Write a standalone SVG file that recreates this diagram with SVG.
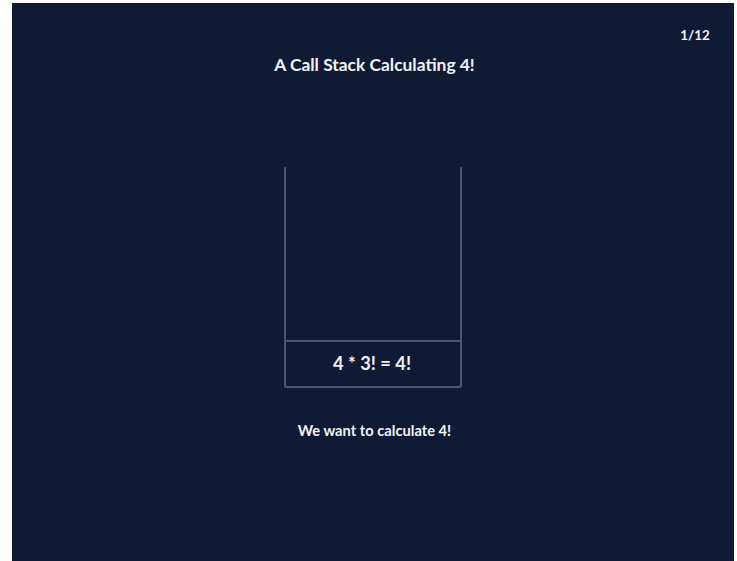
<svg xmlns="http://www.w3.org/2000/svg" width="737" height="561" viewBox="0 0 737 561">
<style>
.t{font-family:Lato,"Open Sans","Liberation Sans",sans-serif;fill:#f1f3f7;font-weight:bold;text-anchor:middle}
.ln{stroke:#4b5670;stroke-width:2;fill:none}
</style>
<rect x="0" y="0" width="737" height="561" fill="#ffffff"/>
<rect x="12" y="3" width="722" height="558" fill="#111a33"/>
<text class="t" x="374.5" y="71" font-size="17.4">A Call Stack Calculating 4!</text>
<text class="t" x="695" y="40" font-size="13.4">1/12</text>
<g id="stack">
<path class="ln" d="M285 167 V385 Q285 387 287 387 H459 Q461 387 461 385 V167"/>
</g>
<g id="frame1">
<line class="ln" x1="285" y1="341" x2="461" y2="341"/>
<text class="t" x="372" y="370" font-size="18.3">4 * 3! = 4!</text>
</g>
<text class="t" x="374.5" y="435.5" font-size="14.7">We want to calculate 4!</text>
</svg>
